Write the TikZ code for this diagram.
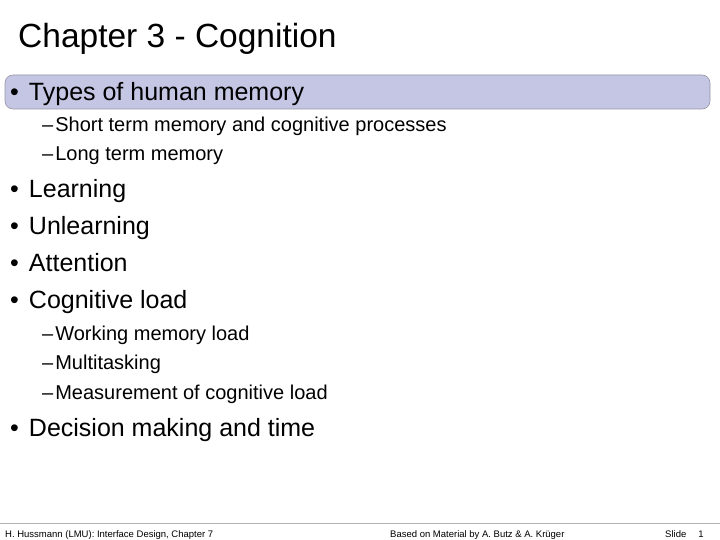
\documentclass[tikz,border=0pt]{standalone}
\usepackage{fontspec}
\setmainfont{Liberation Sans}
\usetikzlibrary{positioning}
\definecolor{barfill}{RGB}{196,198,228}
\definecolor{barline}{RGB}{150,150,165}
\tikzset{
  title/.style={anchor=base west, font=\fontsize{33.5}{36}\selectfont},
  topitem/.style={anchor=base west, font=\fontsize{25}{27}\selectfont},
  subitem/.style={anchor=base west, font=\fontsize{20}{22}\selectfont},
  footer/.style={anchor=base west, font=\fontsize{9.5}{11}\selectfont}
}
\begin{document}
\begin{tikzpicture}[x=1pt,y=1pt,every node/.style={inner sep=0pt}]
\useasboundingbox (0,0) rectangle (720,-540);
\fill[white] (0,0) rectangle (720,-540);
% highlight bar
\draw[barline, fill=barfill, rounded corners=8pt, line width=0.6pt] (5,-75) rectangle (710,-109);
\node (title) [title] at (18,-48) {Chapter 3 - Cognition};
\node (types) [topitem] at (10,-101) {•\hspace{10pt}Types of human memory};
\node (stm) [subitem] at (42,-132) {–\hspace{2pt}Short term memory and cognitive processes};
\node (ltm) [subitem] at (42,-161) {–\hspace{2pt}Long term memory};
\node (learn) [topitem] at (10,-197) {•\hspace{10pt}Learning};
\node (unlearn) [topitem] at (10,-234) {•\hspace{10pt}Unlearning};
\node (attn) [topitem] at (10,-271) {•\hspace{10pt}Attention};
\node (load) [topitem] at (10,-308) {•\hspace{10pt}Cognitive load};
\node (wml) [subitem] at (42,-340) {–\hspace{2pt}Working memory load};
\node (multi) [subitem] at (42,-369) {–\hspace{2pt}Multitasking};
\node (meas) [subitem] at (42,-399) {–\hspace{2pt}Measurement of cognitive load};
\node (decide) [topitem] at (10,-436) {•\hspace{10pt}Decision making and time};
% footer
\draw[gray!60, line width=0.8pt] (0,-523) -- (720,-523);
\node (fleft) [footer] at (5,-537) {H. Hussmann (LMU): Interface Design, Chapter 7};
\node (fmid) [footer] at (390,-537) {Based on Material by A. Butz \& A. Krüger};
\node (fslide) [footer] at (665,-537) {Slide\hspace{12pt}1};
\end{tikzpicture}
\end{document}
